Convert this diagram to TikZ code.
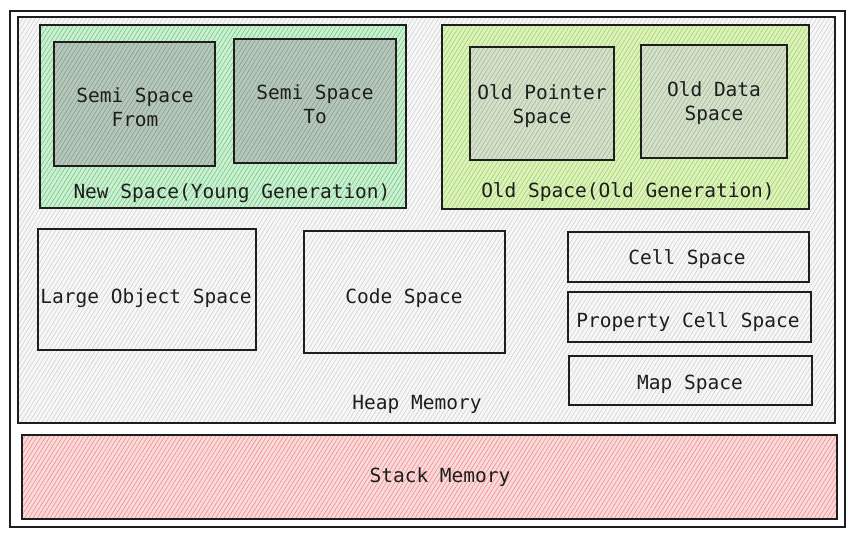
\documentclass[tikz,border=0pt]{standalone}
\usepackage{fontspec}
\setmonofont{DejaVu Sans Mono}
\usetikzlibrary{patterns.meta}
\definecolor{heapfill}{HTML}{F7F7F7}
\definecolor{heapline}{HTML}{CFD2D4}
\definecolor{newfill}{HTML}{CDEFD3}
\definecolor{newline}{HTML}{6FCB80}
\definecolor{semifill}{HTML}{B5C9BA}
\definecolor{semiline}{HTML}{8C9A91}
\definecolor{oldfill}{HTML}{DDF2BE}
\definecolor{oldline}{HTML}{A0D560}
\definecolor{opfill}{HTML}{D3E2C8}
\definecolor{opline}{HTML}{A9B7A0}
\definecolor{stackfill}{HTML}{FADADA}
\definecolor{stackline}{HTML}{F08C8C}
\definecolor{ink}{HTML}{1E1E1E}
\tikzset{
  x=1pt, y=-1pt,
  area/.style n args={2}{draw=ink, line width=1.1pt, rectangle, inner sep=0pt,
    preaction={fill=#1},
    pattern={Lines[angle=58,distance=3.6pt,line width=0.6pt]}, pattern color=#2},
  lbl/.style={font=\ttfamily\fontsize{19.5}{24}\selectfont, text=ink, align=center},
}
\newcommand{\boxat}[6]{% name, x1,y1,x2,y2, style
  \node[#6, minimum width={#4-#2}, minimum height={#5-#3}] (#1) at ({(#2+#4)/2},{(#3+#5)/2}) {};}
\begin{document}
\begin{tikzpicture}
\useasboundingbox (0,0) rectangle (855,537);
\fill[white] (0,0) rectangle (855,537);
% outer frame
\node[draw=ink, line width=1.1pt, minimum width=835, minimum height=516, inner sep=0pt] (outer) at (427.5,269) {};
% heap
\boxat{heap}{18}{17}{835}{423}{area={heapfill}{heapline}}
% new space
\boxat{new}{40}{25}{406}{208}{area={newfill}{newline}}
\boxat{semifrom}{54}{42}{215}{166}{area={semifill}{semiline}}
\boxat{semito}{234}{39}{396}{163}{area={semifill}{semiline}}
% old space
\boxat{old}{442}{25}{809}{209}{area={oldfill}{oldline}}
\boxat{oldptr}{470}{47}{614}{160}{area={opfill}{opline}}
\boxat{olddata}{641}{45}{787}{158}{area={opfill}{opline}}
% other spaces
\boxat{large}{38}{229}{256}{350}{area={heapfill}{heapline}}
\boxat{code}{304}{231}{505}{353}{area={heapfill}{heapline}}
\boxat{cell}{568}{232}{809}{282}{area={heapfill}{heapline}}
\boxat{prop}{568}{292}{811}{342}{area={heapfill}{heapline}}
\boxat{map}{569}{356}{812}{405}{area={heapfill}{heapline}}
% stack
\boxat{stack}{22}{435}{837}{519}{area={stackfill}{stackline}}
% labels
\node[lbl] (tfrom) at (135,107) {Semi Space\\From};
\node[lbl] (tto) at (315,104) {Semi Space\\To};
\node[lbl] (tnew) at (232,193) {New Space(Young Generation)};
\node[lbl] (tptr) at (542,106) {Old Pointer\\Space};
\node[lbl] (tdata) at (714,103) {Old Data\\Space};
\node[lbl] (told) at (628,192) {Old Space(Old Generation)};
\node[lbl] (tlarge) at (146,298) {Large Object Space};
\node[lbl] (tcode) at (404,298) {Code Space};
\node[lbl] (tcell) at (687,259) {Cell Space};
\node[lbl] (tprop) at (688,322) {Property Cell Space};
\node[lbl] (tmap) at (690,384) {Map Space};
\node[lbl] (theap) at (417,404) {Heap Memory};
\node[lbl] (tstack) at (440,477) {Stack Memory};
\end{tikzpicture}
\end{document}
